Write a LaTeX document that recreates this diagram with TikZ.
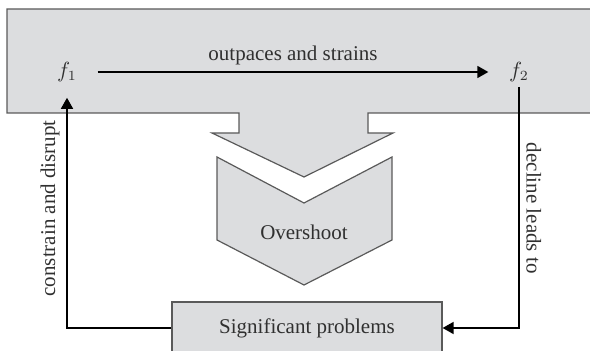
\documentclass[tikz,border=0pt]{standalone}
\usepackage{fontspec}
\setmainfont{Liberation Serif}
\usetikzlibrary{arrows.meta}
\definecolor{panelgray}{HTML}{DCDDDF}
\definecolor{edgegray}{HTML}{5A5A5A}
\definecolor{inkgray}{HTML}{303030}

\begin{document}
\begin{tikzpicture}[x=0.5pt, y=-0.5pt, >={Triangle[length=5.5pt, width=6pt]}, line width=0.8pt,
    panel/.style={fill=panelgray, draw=edgegray, line width=0.6pt},
    lbl/.style={text=inkgray, font=\fontsize{10.5}{12}\selectfont},
    fvar/.style={lbl, inner xsep=10pt, inner ysep=0pt, minimum height=25pt}]
  \useasboundingbox (0,0) rectangle (590,351);
  \clip (0,0) rectangle (590,351);

  % Outer band with its downward stem
  \filldraw[panel] (7,9) -- (600,9) -- (600,113) -- (368,113) -- (368,133) -- (393,133)
    -- (304,177) -- (212,133) -- (239,133) -- (239,113) -- (7,113) -- cycle;

  % Overshoot chevron
  \filldraw[panel] (217,157) -- (304,203) -- (392,157) -- (392,240) -- (304,285)
    -- (217,240) -- cycle;
  \node[lbl] (over) at (304,232) {Overshoot};

  % Problems box (runs off the bottom edge)
  \node[panel, lbl, minimum width=135pt, minimum height=26pt] (problems) at (307,328)
    {Significant problems};

  % The two quantities
  \node[fvar] (f1) at (67,72) {$f_1$};
  \node[fvar] (f2) at (519,72) {$f_2$};

  % Feedback loop
  \draw[->] (f1) -- (f2) node[midway, above, lbl] {outpaces and strains};
  \draw[->, shorten <=-5.5pt] (f2.south) |- (problems.east)
    node[pos=0.24, above, rotate=-90, lbl] {decline leads to};
  \draw[->] (problems.west) -| (f1.south)
    node[pos=0.76, above, rotate=90, lbl] {constrain and disrupt};
\end{tikzpicture}
\end{document}
